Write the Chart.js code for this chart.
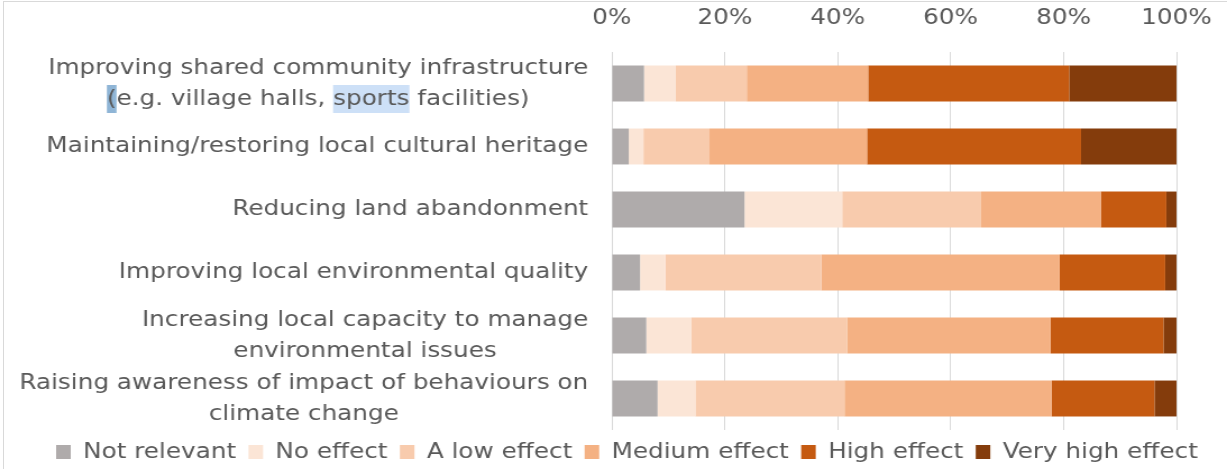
<!DOCTYPE html>
<html>
<head>
<meta charset="utf-8">
<script src="https://cdn.jsdelivr.net/npm/chart.js@4.4.1/dist/chart.umd.min.js"></script>
<style>
  html, body { margin: 0; padding: 0; background: #fff; }
  #wrap { position: relative; width: 1227px; height: 469px; overflow: hidden; }
  /* het origineel is horizontaal uitgerekt; canvas smaller tekenen en oprekken */
  #chart { position: absolute; left: 0; top: 0; width: 1093px; height: 469px;
           transform: scaleX(1.1226); transform-origin: 0 0; }
  #frame { position: absolute; left: 3px; top: 1px; right: -2px; bottom: -2px;
           border-left: 1px solid #d9d9d9; border-top: 1px solid #d9d9d9; pointer-events: none; }
</style>
</head>
<body>
<div id="wrap">
  <canvas id="chart" width="1093" height="469"></canvas>
  <div id="frame"></div>
</div>
<script>
// categorieen (regels per label)
const labels = [
  ['Improving shared community infrastructure', '(e.g. village halls, sports facilities)'],
  ['Maintaining/restoring local cultural heritage'],
  ['Reducing land abandonment'],
  ['Improving local environmental quality'],
  ['Increasing local capacity to manage', 'environmental issues'],
  ['Raising awareness of impact of behaviours on', 'climate change']
];

const notRelevant = [5.7, 3.0, 23.5, 5.0, 6.1, 8.1];
const noEffect    = [5.6, 2.6, 17.3, 4.5, 8.0, 6.7];
const lowEffect   = [12.6, 11.7, 24.6, 27.6, 27.6, 26.4];
const medEffect   = [21.5, 27.9, 21.2, 42.2, 36.0, 36.7];
const highEffect  = [35.6, 37.9, 11.6, 18.7, 20.0, 18.2];
const veryHigh    = [19.0, 16.9, 1.8, 2.0, 2.3, 3.9];

const xTicks = [0, 20, 40, 60, 80, 100];

const FONT = 'DejaVu Sans, Verdana, sans-serif';
const SIZE = 22;
const TXT = '#595959';

// labels rechts uitgelijnd als blok, regels onderling gecentreerd
const labelPlugin = {
  id: 'catLabels',
  afterDraw(chart) {
    const ctx = chart.ctx;
    const y = chart.scales.y;
    const rightEdge = chart.scales.x.left - 21;
    const lh = 31;
    ctx.save();
    ctx.font = SIZE + 'px ' + FONT;
    ctx.textBaseline = 'middle';
    chart.data.labels.forEach((lines, i) => {
      const cy = y.getPixelForValue(i);
      const w = Math.max(...lines.map(l => ctx.measureText(l).width));
      const cx = rightEdge - w / 2;
      lines.forEach((line, j) => {
        const ly = cy + (j - (lines.length - 1) / 2) * lh;
        const lw = ctx.measureText(line).width;
        const x0 = cx - lw / 2;
        // selectie-markering uit de screenshot
        if (i === 0 && j === 1) {
          const pw = ctx.measureText('(').width;
          ctx.fillStyle = '#8fb5d6';
          ctx.fillRect(x0, ly - 14, pw, 28);
          const pre = ctx.measureText('(e.g. village halls, ').width;
          const sw = ctx.measureText('sports').width;
          ctx.fillStyle = '#cde0f7';
          ctx.fillRect(x0 + pre, ly - 14, sw, 28);
        }
        ctx.fillStyle = TXT;
        ctx.textAlign = 'left';
        ctx.fillText(line, x0, ly);
      });
    });
    ctx.restore();
  }
};

const mk = (label, data, color) => ({
  label: label,
  data: data,
  backgroundColor: color,
  borderWidth: 0,
  categoryPercentage: 1,
  barPercentage: 0.57
});

new Chart(document.getElementById('chart'), {
  type: 'bar',
  data: {
    labels: labels,
    datasets: [
      mk('Not relevant', notRelevant, '#afabab'),
      mk('No effect', noEffect, '#fbe5d6'),
      mk('A low effect', lowEffect, '#f8cbad'),
      mk('Medium effect', medEffect, '#f4b183'),
      mk('High effect', highEffect, '#c55a11'),
      mk('Very high effect', veryHigh, '#843c0c')
    ]
  },
  options: {
    indexAxis: 'y',
    responsive: false,
    animation: false,
    layout: { padding: { top: 5, right: 0, bottom: -4, left: 24 } },
    plugins: {
      legend: {
        position: 'bottom',
        labels: {
          boxWidth: 13,
          boxHeight: 14,
          padding: 11,
          color: TXT,
          font: { family: FONT, size: SIZE }
        }
      },
      tooltip: { enabled: false }
    },
    scales: {
      x: {
        position: 'top',
        stacked: true,
        min: 0,
        max: 100,
        afterBuildTicks: s => { s.ticks = xTicks.map(v => ({ value: v })); },
        afterFit: s => { s.height = 47; s.paddingRight = 45; },
        ticks: {
          callback: v => v + '%',
          color: TXT,
          padding: 21,
          font: { family: FONT, size: SIZE }
        },
        grid: { color: '#d9d9d9', drawTicks: false },
        border: { display: false }
      },
      y: {
        stacked: true,
        ticks: { display: false },
        grid: { display: false },
        border: { display: false },
        afterFit: s => { s.width = 521; }
      }
    }
  },
  plugins: [labelPlugin]
});
</script>
</body>
</html>
